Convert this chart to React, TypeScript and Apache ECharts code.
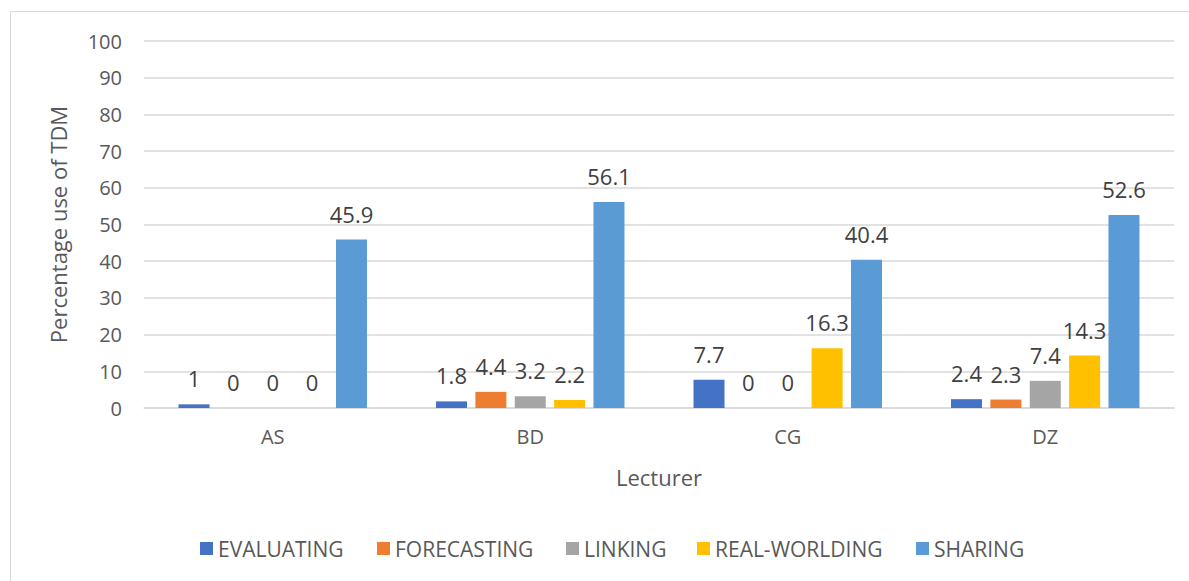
import React, { useEffect, useRef } from "react";
import * as echarts from "echarts";

const categories = ["AS", "BD", "CG", "DZ"];
const seriesNames = ["EVALUATING", "FORECASTING", "LINKING", "REAL-WORLDING", "SHARING"];
const evaluating = [1, 1.8, 7.7, 2.4];
const forecasting = [0, 4.4, 0, 2.3];
const linking = [0, 3.2, 0, 7.4];
const realWorlding = [0, 2.2, 16.3, 14.3];
const sharing = [45.9, 56.1, 40.4, 52.6];
const colors = ["#4472C4", "#ED7D31", "#A5A5A5", "#FFC000", "#5B9BD5"];
const legendLefts = [195, 372, 561, 692, 911];
const yTicks = { min: 0, max: 100, interval: 10 };

export default function App() {
  const ref = useRef<HTMLDivElement>(null);
  useEffect(() => {
    if (!ref.current) return;
    const chart = echarts.init(ref.current, null, { renderer: "svg" });
    const font = "'Open Sans', 'Noto Sans', sans-serif";
    const values = [evaluating, forecasting, linking, realWorlding, sharing];
    chart.setOption({
      animation: false,
      textStyle: { fontFamily: font },
      graphic: [
        {
          type: "rect",
          shape: { x: 10.5, y: 11.5, width: 1250, height: 650 },
          style: { fill: "none", stroke: "#D9D9D9", lineWidth: 1 },
          silent: true,
        },
      ],
      grid: { left: 144, right: 15, top: 41, bottom: 173, containLabel: false },
      legend: seriesNames.map((n, i) => ({
        data: [n],
        left: legendLefts[i],
        top: 533,
        itemWidth: 13,
        itemHeight: 13,
        icon: "rect",
        textStyle: { fontFamily: font, fontSize: 21, color: "#595959" },
        selectedMode: false,
      })),
      xAxis: {
        type: "category",
        data: categories,
        name: "Lecturer",
        nameLocation: "middle",
        nameGap: 58,
        nameTextStyle: { fontFamily: font, fontSize: 22, color: "#595959" },
        axisLine: { show: true, lineStyle: { color: "#D9D9D9", width: 1.5 } },
        axisTick: { show: false },
        axisLabel: { fontFamily: font, fontSize: 20, color: "#595959", margin: 18 },
      },
      yAxis: {
        type: "value",
        min: yTicks.min,
        max: yTicks.max,
        interval: yTicks.interval,
        name: "Percentage use of TDM",
        nameLocation: "middle",
        nameGap: 75,
        nameTextStyle: { fontFamily: font, fontSize: 22, color: "#595959" },
        axisLine: { show: false },
        axisTick: { show: false },
        splitLine: { lineStyle: { color: "#D9D9D9", width: 1.5 } },
        axisLabel: { fontFamily: font, fontSize: 20, color: "#595959", margin: 22 },
      },
      series: seriesNames.map((n, i) => ({
        name: n,
        type: "bar",
        data: values[i],
        barWidth: 31,
        barGap: "27%",
        itemStyle: { color: colors[i] },
        label: {
          show: true,
          position: "top",
          distance: 15,
          fontFamily: font,
          fontSize: 22,
          color: "#404040",
        },
      })),
    });
    return () => chart.dispose();
  }, []);
  return (
    <div
      ref={ref}
      style={{ position: "fixed", left: 0, top: 0, width: 1189, height: 581, background: "#fff" }}
    />
  );
}
